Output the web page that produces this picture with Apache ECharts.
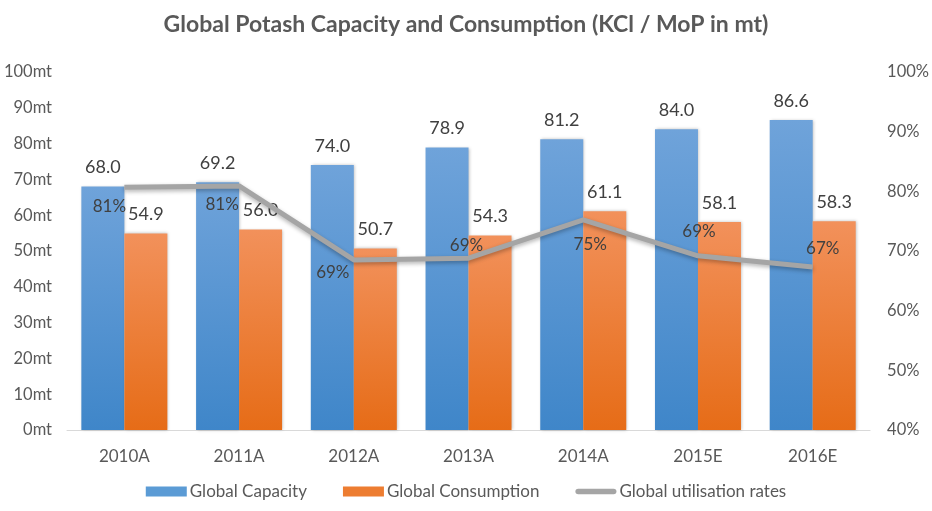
<!DOCTYPE html>
<html>
<head>
<meta charset="utf-8">
<script src="https://cdn.jsdelivr.net/npm/echarts@6/dist/echarts.min.js"></script>
<style>html,body{margin:0;padding:0;background:#fff;}#c{width:932px;height:511px;}</style>
</head>
<body>
<div id="c"></div>
<script>
var categories = ['2010A','2011A','2012A','2013A','2014A','2015E','2016E'];
var capacity = [68.0, 69.2, 74.0, 78.9, 81.2, 84.0, 86.6];
var consumption = [54.9, 56.0, 50.7, 54.3, 61.1, 58.1, 58.3];
var utilisation = [80.7, 80.9, 68.5, 68.8, 75.2, 69.2, 67.3];
var leftTicks = {min: 0, max: 100, interval: 10, suffix: 'mt'};
var rightTicks = {min: 40, max: 100, interval: 10, suffix: '%'};

var FONT = 'Lato';
var labelOffsets = [[-15,19],[-17,19],[-21,13],[-2,-13],[7,25],[1,-24],[10,-19]];

var chart = echarts.init(document.getElementById('c'));
function grad(top, bottom){
  return new echarts.graphic.LinearGradient(0,0,0,1,[{offset:0,color:top},{offset:1,color:bottom}]);
}
var option = {
  animation: false,
  textStyle: {fontFamily: FONT},
  title: {
    text: 'Global Potash Capacity and Consumption (KCl / MoP in mt)',
    left: 'center', top: 8,
    textStyle: {fontFamily: FONT, fontWeight: 'bold', fontSize: 23, color: '#595959'}
  },
  legend: {
    bottom: 6, left: 'center',
    itemWidth: 41, itemHeight: 10, itemGap: 36,
    textStyle: {fontFamily: FONT, fontSize: 17, color: '#595959', padding: [0,0,0,-2]},
    data: [
      {name: 'Global Capacity', icon: 'rect', itemStyle: {color: '#5b9bd5'}},
      {name: 'Global Consumption', icon: 'rect', itemStyle: {color: '#ed7d31'}},
      {name: 'Global utilisation rates', icon: 'path://M3,0 H41 A3,3 0 0 1 41,6 H3 A3,3 0 0 1 3,0 Z', itemStyle: {color: '#a5a5a5'}}
    ]
  },
  grid: {left: 67, right: 56, top: 72, bottom: 81},
  xAxis: {
    type: 'category', data: categories,
    axisLine: {lineStyle: {color: '#d9d9d9', width: 1}},
    axisTick: {show: false},
    axisLabel: {color: '#595959', fontSize: 17, margin: 18, fontFamily: FONT}
  },
  yAxis: [{
    type: 'value', min: leftTicks.min, max: leftTicks.max, interval: leftTicks.interval,
    splitLine: {show: false}, axisLine: {show: false}, axisTick: {show: false},
    axisLabel: {color: '#595959', fontSize: 16.5, margin: 15, fontFamily: FONT,
      formatter: function(v){ return v + leftTicks.suffix; }}
  }, {
    type: 'value', min: rightTicks.min, max: rightTicks.max, interval: rightTicks.interval,
    splitLine: {show: false}, axisLine: {show: false}, axisTick: {show: false},
    axisLabel: {color: '#595959', fontSize: 16.5, margin: 17, fontFamily: FONT,
      formatter: function(v){ return v + rightTicks.suffix; }}
  }],
  series: [{
    name: 'Global Capacity', type: 'bar', data: capacity,
    barWidth: 43, barGap: '0%',
    itemStyle: {color: grad('#6fa3da', '#3f86c9'), shadowColor: 'rgba(0,0,0,0.25)', shadowBlur: 3, shadowOffsetX: 1},
    label: {show: true, position: 'top', distance: 10, fontSize: 18, color: '#404040', fontFamily: FONT,
      formatter: function(p){ return p.value.toFixed(1); }}
  }, {
    name: 'Global Consumption', type: 'bar', data: consumption,
    barWidth: 43, barGap: '0%',
    itemStyle: {color: grad('#f2915b', '#e66c17'), shadowColor: 'rgba(0,0,0,0.25)', shadowBlur: 3, shadowOffsetX: 1},
    label: {show: true, position: 'top', distance: 10, fontSize: 18, color: '#404040', fontFamily: FONT,
      formatter: function(p){ return p.value.toFixed(1); }}
  }, {
    name: 'Global utilisation rates', type: 'line', yAxisIndex: 1,
    data: utilisation.map(function(v, i){
      return {value: v, label: {offset: labelOffsets[i]}};
    }),
    showSymbol: true, symbol: 'circle', symbolSize: 1,
    lineStyle: {color: '#a5a5a5', width: 5, shadowColor: 'rgba(0,0,0,0.3)', shadowBlur: 4, shadowOffsetY: 2},
    itemStyle: {color: '#a5a5a5'},
    z: 5,
    label: {show: true, position: 'inside', fontSize: 17, color: '#404040', fontFamily: FONT,
      formatter: function(p){ return Math.round(p.value) + '%'; }}
  }]
};
chart.setOption(option);
</script>
</body>
</html>
